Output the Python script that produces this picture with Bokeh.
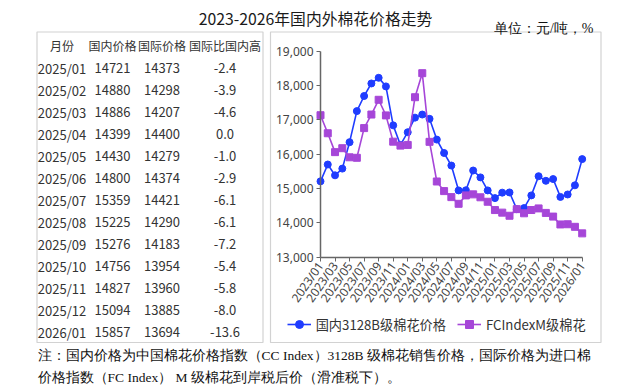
from bokeh.plotting import figure
from bokeh.models import (Range1d, FixedTicker, NumeralTickFormatter, Legend, LegendItem,
                          ColumnDataSource, LinearAxis)
from bokeh.core.properties import value
from bokeh.embed import file_html
from bokeh.resources import INLINE

# ---------------- data ----------------
months = ["2023/01", "2023/02", "2023/03", "2023/04", "2023/05", "2023/06", "2023/07", "2023/08",
          "2023/09", "2023/10", "2023/11", "2023/12", "2024/01", "2024/02", "2024/03", "2024/04",
          "2024/05", "2024/06", "2024/07", "2024/08", "2024/09", "2024/10", "2024/11", "2024/12",
          "2025/01", "2025/02", "2025/03", "2025/04", "2025/05", "2025/06", "2025/07", "2025/08",
          "2025/09", "2025/10", "2025/11", "2025/12", "2026/01"]
domestic = [15210, 15700, 15385, 15580, 16350, 17255, 17695, 18060, 18225, 17975, 16840, 16270,
            16640, 17065, 17155, 17030, 16425, 16035, 15670, 14945, 14950, 15525, 15325, 14945,
            14721, 14880, 14886, 14399, 14430, 14800, 15359, 15225, 15276, 14756, 14827, 15094, 15857]
international = [17135, 16610, 16060, 16175, 15910, 15895, 16760, 17155, 17585, 17130, 16365, 16250,
                 16270, 17660, 18360, 16360, 15205, 14925, 14750, 14555, 14800, 14830, 14745, 14615,
                 14373, 14298, 14207, 14400, 14279, 14374, 14421, 14290, 14183, 13954, 13960, 13885, 13694]
y_ticks = [13000, 14000, 15000, 16000, 17000, 18000, 19000]

tbl_header = ["月份", "国内价格", "国际价格", "国际比国内高"]
tbl_month = ["2025/01", "2025/02", "2025/03", "2025/04", "2025/05", "2025/06", "2025/07",
             "2025/08", "2025/09", "2025/10", "2025/11", "2025/12", "2026/01"]
tbl_dom = [14721, 14880, 14886, 14399, 14430, 14800, 15359, 15225, 15276, 14756, 14827, 15094, 15857]
tbl_intl = [14373, 14298, 14207, 14400, 14279, 14374, 14421, 14290, 14183, 13954, 13960, 13885, 13694]
tbl_ratio = ["-2.4", "-3.9", "-4.6", "0.0", "-1.0", "-2.9", "-6.1", "-6.1", "-7.2", "-5.4", "-5.8", "-8.0", "-13.6"]

title_text = "2023-2026年国内外棉花价格走势"
unit_text = "单位：元/吨，%"
series_names = ["国内3128B级棉花价格", "FCIndexM级棉花"]
note_lines = ["注：国内价格为中国棉花价格指数（CC Index）3128B 级棉花销售价格，国际价格为进口棉",
              "价格指数（FC Index） M 级棉花到岸税后价（滑准税下）。"]

# ---------------- geometry (pixels of the page) ----------------
W, H = 634, 387
AX_L, AX_R = 320.0, 581.7      # x pixel of first / last month
AX_T, AX_B = 50.7, 256.7       # y pixel of 19,000 / 13,000
KX = (AX_R - AX_L) / 36.0
KY = (AX_B - AX_T) / 6000.0
X0 = -AX_L / KX
Y_TOP = 19000 + AX_T / KY


def DX(px):
    return X0 + px / KX


def DY(py):
    return Y_TOP - py / KY


BLUE = "#1f3cff"
PURPLE = "#a646d8"
CJK = "Noto Sans CJK SC"
SERIF = "Liberation Serif"
BOX = "#d2d2d2"

p = figure(width=W, height=H, output_backend="svg", toolbar_location=None,
           x_range=Range1d(DX(0), DX(W)), y_range=Range1d(DY(H), DY(0)),
           x_axis_type=None, y_axis_type=None,
           min_border=0, min_border_left=0, min_border_right=0, min_border_top=0, min_border_bottom=0)
p.background_fill_color = "white"
p.border_fill_color = "white"
p.outline_line_color = None
p.grid.visible = False

# boxes
p.quad(left=[DX(36.5), DX(270)], right=[DX(262.5), DX(600.5)], top=[DY(31.5)] * 2, bottom=[DY(342)] * 2,
       fill_alpha=0, line_color=BOX, line_width=1.2)

# series
src = ColumnDataSource(dict(x=list(range(len(months))), dom=domestic, intl=international))
l1 = p.line("x", "dom", source=src, line_color=BLUE, line_width=1.6)
s1 = p.scatter("x", "dom", source=src, marker="circle", size=7, fill_color=BLUE, line_color=BLUE)
l2 = p.line("x", "intl", source=src, line_color=PURPLE, line_width=1.6)
s2 = p.scatter("x", "intl", source=src, marker="square", size=7, fill_color=PURPLE, line_color=PURPLE)

# axes
yax = LinearAxis(fixed_location=0, bounds=(13000, 19000), ticker=FixedTicker(ticks=y_ticks),
                 formatter=NumeralTickFormatter(format="0,0"))
yax.minor_tick_line_color = None
yax.major_tick_in = 0
yax.major_tick_out = 4
yax.axis_line_color = "#666666"
yax.axis_line_width = 1.5
yax.major_tick_line_color = "#666666"
yax.major_label_text_font = "Noto Sans"
yax.major_label_text_font_size = "12px"
yax.major_label_text_color = "#444444"
yax.major_label_standoff = 3
p.add_layout(yax, "left")

xax = LinearAxis(fixed_location=13000, bounds=(0, 36), ticker=FixedTicker(ticks=list(range(0, 37, 2))))
xax.major_label_overrides = {i: months[i] for i in range(0, 37, 2)}
xax.minor_tick_line_color = None
xax.major_tick_in = 0
xax.major_tick_out = 4
xax.axis_line_color = "#666666"
xax.axis_line_width = 1.5
xax.major_tick_line_color = "#666666"
xax.major_label_orientation = 0.96
xax.major_label_text_font = "Noto Sans"
xax.major_label_text_font_size = "12px"
xax.major_label_text_color = "#444444"
xax.major_label_standoff = 2
p.add_layout(xax, "below")

legend = Legend(items=[LegendItem(label=series_names[0], renderers=[l1, s1]),
                       LegendItem(label=series_names[1], renderers=[l2, s2])],
                orientation="horizontal", location=(286.7, H - 334),
                glyph_width=24, glyph_height=20, label_standoff=5, spacing=11,
                padding=0, margin=0, border_line_alpha=0, background_fill_alpha=0,
                label_text_font=CJK, label_text_font_size="13.2px", label_text_color="#333333")
p.add_layout(legend, "center")


def put(xs, ys, texts, size, font=CJK, align="center", color="#333333"):
    p.text(x=[DX(v) for v in xs], y=[DY(v) for v in ys], text=texts, text_font=value(font),
           text_font_size=value(size), text_align=align, text_baseline="middle", text_color=color)


put([315], [17.5], [title_text], "15.8px", color="#1a1a1a")
put([593], [27.5], [unit_text], "14px", font=SERIF, align="right", color="#111111")

col_x = [61.5, 112, 161.5, 224.5]
put(col_x, [45] * 4, tbl_header, "12px")
row_y = [67.7 + i * 22 for i in range(len(tbl_month))]
n = len(tbl_month)
put([col_x[0]] * n, row_y, tbl_month, "13px")
put([col_x[1]] * n, row_y, [str(v) for v in tbl_dom], "13px")
put([col_x[2]] * n, row_y, [str(v) for v in tbl_intl], "13px")
put([col_x[3]] * n, row_y, tbl_ratio, "13px")

put([37, 37], [355, 377], note_lines, "13.5px", font=SERIF, align="left", color="#111111")

open("out.html", "w").write(file_html(p, INLINE))
